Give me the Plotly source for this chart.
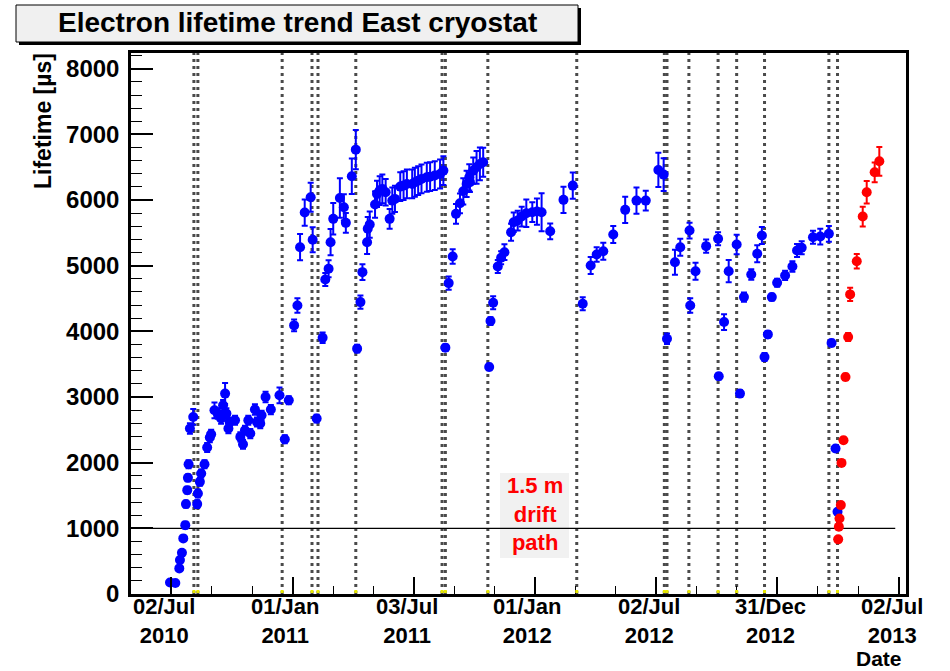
import plotly.graph_objects as go
import pandas as pd

# ---------------- data ----------------
blue_dates = [
    "2010-06-30", "2010-07-08", "2010-07-14", "2010-07-15", "2010-07-18", "2010-07-20",
    "2010-07-23", "2010-07-24", "2010-07-26", "2010-07-27", "2010-07-28", "2010-07-30",
    "2010-08-04", "2010-08-10", "2010-08-11", "2010-08-14", "2010-08-16", "2010-08-21",
    "2010-08-25", "2010-08-29", "2010-08-31", "2010-09-05", "2010-09-10", "2010-09-15",
    "2010-09-18", "2010-09-21", "2010-09-23", "2010-09-26", "2010-09-28", "2010-10-06",
    "2010-10-14", "2010-10-18", "2010-10-21", "2010-10-26", "2010-10-29", "2010-11-05",
    "2010-11-08", "2010-11-13", "2010-11-15", "2010-11-21", "2010-11-29", "2010-12-12",
    "2010-12-20", "2010-12-26", "2011-01-03", "2011-01-08", "2011-01-12", "2011-01-19",
    "2011-01-28", "2011-01-31", "2011-02-06", "2011-02-15", "2011-02-19", "2011-02-24",
    "2011-02-27", "2011-03-03", "2011-03-13", "2011-03-19", "2011-03-22", "2011-03-31",
    "2011-04-06", "2011-04-08", "2011-04-13", "2011-04-16", "2011-04-23", "2011-04-24",
    "2011-04-27", "2011-05-05", "2011-05-08", "2011-05-12", "2011-05-16", "2011-05-21",
    "2011-05-27", "2011-05-31", "2011-06-04", "2011-06-12", "2011-06-17", "2011-06-22",
    "2011-06-30", "2011-07-04", "2011-07-09", "2011-07-14", "2011-07-22", "2011-07-27",
    "2011-08-03", "2011-08-11", "2011-08-16", "2011-08-19", "2011-08-24", "2011-08-30",
    "2011-09-04", "2011-09-10", "2011-09-15", "2011-09-20", "2011-09-24", "2011-09-25",
    "2011-09-30", "2011-10-05", "2011-10-10", "2011-10-15", "2011-10-24", "2011-10-26",
    "2011-10-30", "2011-11-06", "2011-11-11", "2011-11-16", "2011-11-26", "2011-11-30",
    "2011-12-06", "2011-12-12", "2011-12-19", "2011-12-28", "2012-01-04", "2012-01-11",
    "2012-01-24", "2012-02-13", "2012-02-27", "2012-03-13", "2012-03-25", "2012-04-03",
    "2012-04-13", "2012-04-28", "2012-05-16", "2012-06-02", "2012-06-16", "2012-07-05",
    "2012-07-13", "2012-07-18", "2012-07-30", "2012-08-07", "2012-08-21", "2012-08-22",
    "2012-08-30", "2012-09-15", "2012-10-03", "2012-10-04", "2012-10-12", "2012-10-19",
    "2012-10-31", "2012-11-05", "2012-11-11", "2012-11-22", "2012-12-01", "2012-12-08",
    "2012-12-12", "2012-12-17", "2012-12-23", "2012-12-31", "2013-01-12", "2013-01-23",
    "2013-01-30", "2013-02-06", "2013-02-23", "2013-03-06", "2013-03-19", "2013-03-23",
    "2013-03-29", "2013-04-01",
]
blue_lifetime = [
    175, 168, 390, 517, 628, 847,
    1049, 1369, 1582, 1769, 1977, 2520,
    2697, 1369, 1531, 1708, 1836, 1977,
    2231, 2383, 2433, 2798, 2748, 2672,
    2875, 3052, 2748, 2520, 2620, 2646,
    2393, 2281, 2494, 2646, 2444, 2809,
    2620, 2596, 2722, 3001, 2809, 3027,
    2357, 2951, 4091, 4395, 5282, 5810,
    6043, 5395, 2672, 3904, 4791, 4953,
    5358, 5714, 6032, 5890, 5653, 6362,
    6768, 3737, 4446, 4902, 5358, 5562,
    5627, 5932, 6094, 6144, 6170, 6119,
    5714, 5992, 6018, 6205, 6220, 6246,
    6246, 6271, 6296, 6322, 6347, 6357,
    6373, 6398, 6449, 3752, 4735, 5141,
    5790, 5951, 6134, 6246, 6347, 6271,
    6449, 6499, 6550, 6575, 3457, 4157,
    4436, 4989, 5121, 5206, 5510, 5662,
    5688, 5749, 5800, 5815, 5825, 5815,
    5525, 6003, 6220, 4421, 5004, 5171,
    5221, 5475, 5851, 5992, 5992, 6459,
    6388, 3889, 5054, 5282, 5536, 4395,
    4917, 5298, 5410, 3316, 4142, 4917,
    5323, 3052, 4522, 4867, 5182, 5460,
    3609, 3954, 4522, 4741, 4852, 4989,
    5232, 5273, 5434, 5445, 5486, 3822,
    2216, 1252,
]
blue_error = [
    30, 30, 40, 40, 40, 40,
    50, 50, 50, 50, 60, 80,
    120, 60, 60, 60, 60, 60,
    70, 70, 70, 120, 80, 80,
    80, 160, 80, 70, 70, 70,
    70, 70, 70, 70, 70, 80,
    70, 70, 70, 80, 70, 120,
    60, 60, 90, 110, 200, 200,
    220, 190, 60, 80, 100, 130,
    200, 240, 300, 200, 150, 270,
    300, 60, 100, 120, 180, 180,
    200, 200, 200, 220, 220, 200,
    150, 200, 200, 220, 220, 220,
    220, 220, 220, 220, 220, 220,
    220, 220, 220, 50, 100, 110,
    150, 150, 200, 200, 200, 150,
    200, 250, 250, 220, 50, 60,
    100, 100, 100, 120, 130, 150,
    150, 150, 210, 150, 200, 290,
    120, 200, 200, 100, 130, 110,
    130, 130, 200, 200, 150, 260,
    250, 80, 190, 130, 120, 110,
    130, 100, 100, 50, 120, 170,
    150, 50, 70, 80, 130, 130,
    60, 50, 50, 60, 70, 80,
    100, 100, 100, 120, 120, 50,
    40, 40,
]

red_dates = [
    "2013-04-02", "2013-04-03", "2013-04-04", "2013-04-06", "2013-04-07", "2013-04-10",
    "2013-04-13", "2013-04-17", "2013-04-20", "2013-04-30", "2013-05-09", "2013-05-15",
    "2013-05-27", "2013-06-03",
]
red_lifetime = [832, 1024, 1151, 1354, 1997, 2342, 3305, 3914, 4563, 5069, 5749, 6119, 6423, 6590]
red_error = [30, 30, 30, 30, 40, 40, 50, 60, 100, 110, 150, 170, 150, 220]

# dates of the vertical dotted marker lines
event_dates = [
    "2010-08-05", "2010-08-11", "2010-12-16", "2011-01-30", "2011-02-08", "2011-04-06",
    "2011-08-14", "2011-08-19", "2011-10-22", "2012-03-04", "2012-07-14", "2012-07-18",
    "2012-08-20", "2012-10-03", "2012-10-31", "2012-12-12", "2013-03-19", "2013-04-01",
]

tick_dates = ["2010-07-02", "2011-01-01", "2011-07-03", "2012-01-01",
              "2012-07-02", "2012-12-31", "2013-07-02"]
tick_daymonth = ["02/Jul", "01/Jan", "03/Jul", "01/Jan", "02/Jul", "31/Dec", "02/Jul"]
tick_year = ["2010", "2011", "2011", "2012", "2012", "2012", "2013"]

x_range = ["2010-05-02 05:00", "2013-07-13 05:00"]
y_range = [0, 8240]
reference_level = 1000          # 1.5 m drift path threshold
reference_end = "2013-06-27"

title_text = "Electron lifetime trend East cryostat"
ytitle_text = "Lifetime [µs]"
xtitle_text = "Date"
drift_text = "1.5 m<br>drift<br>path"

# ---------------- layout helpers ----------------
W, H = 950, 671
ML, MR, MT, MB = 131, 44, 53, 77
PW, PH = W - ML - MR, H - MT - MB


def px(x):
    return (x - ML) / PW


def py(y):
    return (H - MB - y) / PH


FONT = "Liberation Sans, Arial, Helvetica, sans-serif"
BLUE = "#0000ff"
RED = "#ff0000"

# minor x ticks: thirds between the labelled ticks
td = pd.to_datetime(tick_dates)
minor_vals = []
for a, b in zip(td[:-1], td[1:]):
    for k in (1, 2):
        minor_vals.append((a + (b - a) * k / 3).strftime("%Y-%m-%d %H:%M"))

fig = go.Figure()

fig.add_trace(go.Scatter(
    x=blue_dates, y=blue_lifetime, mode="markers",
    marker=dict(color=BLUE, size=10, symbol="circle", line=dict(width=0)),
    error_y=dict(type="data", array=blue_error, visible=True, color=BLUE,
                 thickness=2, width=3),
    showlegend=False,
))
fig.add_trace(go.Scatter(
    x=red_dates, y=red_lifetime, mode="markers",
    marker=dict(color=RED, size=10, symbol="circle", line=dict(width=0)),
    error_y=dict(type="data", array=red_error, visible=True, color=RED,
                 thickness=2, width=3),
    showlegend=False,
))

shapes = []
# vertical dotted event lines
for d in event_dates:
    shapes.append(dict(type="line", xref="x", yref="paper", x0=d, x1=d, y0=0, y1=1,
                       line=dict(color="#4a4a4a", width=3, dash="3px,4px"),
                       layer="below"))
# label box behind "1.5 m drift path"
shapes.append(dict(type="rect", xref="paper", yref="paper",
                   x0=px(500), x1=px(569), y0=py(558), y1=py(473),
                   fillcolor="#f1f1f1", line=dict(width=0), layer="below"))
# reference line at 1000 us
shapes.append(dict(type="line", xref="x", yref="y", x0=x_range[0], x1=reference_end,
                   y0=reference_level, y1=reference_level,
                   line=dict(color="black", width=1.2), layer="below"))
# small yellow marks at the foot of the event lines
for d in event_dates:
    shapes.append(dict(type="rect", xref="x", yref="y", xsizemode="pixel", ysizemode="pixel",
                       xanchor=d, yanchor=0, x0=-1.5, x1=1.5, y0=1, y1=4,
                       fillcolor="#e8e800", line=dict(width=0), layer="above"))
# title pave with shadow
shapes.append(dict(type="rect", xref="paper", yref="paper",
                   x0=px(19), x1=px(581), y0=py(45), y1=py(8),
                   fillcolor="black", line=dict(width=0)))
shapes.append(dict(type="rect", xref="paper", yref="paper",
                   x0=px(16), x1=px(578), y0=py(42), y1=py(5),
                   fillcolor="#f0f0f0", line=dict(color="black", width=1)))

annotations = [
    dict(text=title_text, xref="paper", yref="paper", x=px(297), y=py(23),
         showarrow=False, xanchor="center", yanchor="middle",
         font=dict(family=FONT, size=28, color="black", weight="bold")),
    dict(text=ytitle_text, xref="paper", yref="paper", x=px(43), y=py(121),
         showarrow=False, xanchor="center", yanchor="middle", textangle=-90,
         font=dict(family=FONT, size=23, color="black", weight="bold")),
    dict(text=xtitle_text, xref="paper", yref="paper", x=px(879), y=py(658),
         showarrow=False, xanchor="center", yanchor="middle",
         font=dict(family=FONT, size=21, color="black", weight="bold")),
    dict(text=drift_text, xref="paper", yref="paper", x=px(535), y=py(514),
         showarrow=False, xanchor="center", yanchor="middle",
         font=dict(family=FONT, size=22, color=RED, weight="bold")),
]
# two-line date labels under the major ticks (one text block per tick)
for d, dm, yr in zip(tick_dates, tick_daymonth, tick_year):
    annotations.append(dict(text=dm + "<br>" + yr, xref="x", yref="paper", x=d, y=py(621),
                            xshift=-7, showarrow=False, xanchor="center", yanchor="middle",
                            font=dict(family=FONT, size=22, color="black", weight="bold")))

fig.update_layout(
    width=W, height=H,
    margin=dict(l=ML, r=MR, t=MT, b=MB, pad=0),
    paper_bgcolor="white", plot_bgcolor="white",
    showlegend=False,
    shapes=shapes,
    annotations=annotations,
    xaxis=dict(
        type="date", range=x_range,
        tickmode="array", tickvals=tick_dates, showticklabels=False,
        ticks="inside", ticklen=17, tickwidth=1.5, tickcolor="black",
        showline=True, linewidth=2.5, linecolor="black", mirror=True,
        showgrid=False, zeroline=False,
        minor=dict(tickmode="array", tickvals=minor_vals, ticks="inside",
                   ticklen=8, tickwidth=1, tickcolor="black", showgrid=False),
    ),
    yaxis=dict(
        range=y_range, tickmode="linear", tick0=0, dtick=1000,
        ticks="inside", ticklen=22, tickwidth=1.5, tickcolor="black",
        showline=True, linewidth=2.5, linecolor="black", mirror=True,
        showgrid=False, zeroline=False,
        tickfont=dict(family=FONT, size=24, color="black", weight="bold"),
        ticklabelstandoff=4,
        minor=dict(dtick=200, ticks="inside", ticklen=11, tickwidth=1,
                   tickcolor="black", showgrid=False),
    ),
)

fig.write_html("out.html")
